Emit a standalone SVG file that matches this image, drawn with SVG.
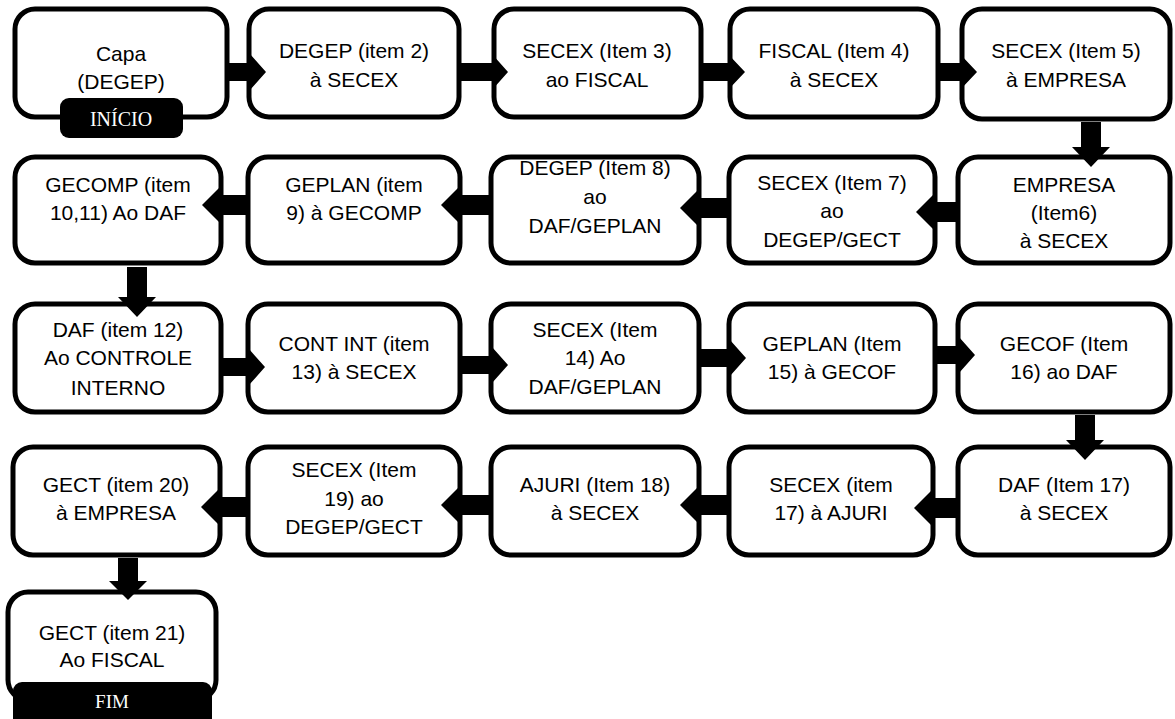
<svg xmlns="http://www.w3.org/2000/svg" width="1175" height="719" viewBox="0 0 1175 719">
<style>
.box{fill:#fff;stroke:#000;stroke-width:5}
.t{font-family:"Liberation Sans",Arial,sans-serif;font-size:21px;fill:#000;text-anchor:middle}
.lab{fill:#000}
.lt{font-family:"Liberation Serif","Times New Roman",serif;fill:#fff;text-anchor:middle}
.arr{fill:#000}
</style>
<rect width="1175" height="719" fill="#fff"/>
<g id="n1"><rect class="box" x="15" y="9" width="212" height="108" rx="20"/><text class="t" x="121" y="61">Capa</text><text class="t" x="121" y="89">(DEGEP)</text><rect class="lab" x="60" y="98" width="123" height="40" rx="9"/><text class="lt" x="121" y="126" font-size="20">INÍCIO</text></g>
<g id="n2"><rect class="box" x="249" y="9" width="210" height="108" rx="20"/><text class="t" x="354" y="58">DEGEP (item 2)</text><text class="t" x="354" y="87">à SECEX</text></g>
<g id="n3"><rect class="box" x="494" y="9" width="207" height="108" rx="20"/><text class="t" x="597" y="58">SECEX (Item 3)</text><text class="t" x="597" y="87">ao FISCAL</text></g>
<g id="n4"><rect class="box" x="730" y="9" width="208" height="108" rx="20"/><text class="t" x="834" y="58">FISCAL (Item 4)</text><text class="t" x="834" y="87">à SECEX</text></g>
<g id="n5"><rect class="box" x="962" y="9" width="208" height="110" rx="20"/><text class="t" x="1066" y="58">SECEX (Item 5)</text><text class="t" x="1066" y="87">à EMPRESA</text></g>
<g id="n6"><rect class="box" x="958" y="157" width="212" height="106" rx="20"/><text class="t" x="1064" y="192">EMPRESA</text><text class="t" x="1064" y="220">(Item6)</text><text class="t" x="1064" y="248">à SECEX</text></g>
<g id="n7"><rect class="box" x="729" y="157" width="206" height="106" rx="20"/><text class="t" x="832" y="190">SECEX (Item 7)</text><text class="t" x="832" y="218">ao</text><text class="t" x="832" y="247">DEGEP/GECT</text></g>
<g id="n8"><rect class="box" x="491" y="157" width="208" height="106" rx="20"/><text class="t" x="595" y="175">DEGEP (Item 8)</text><text class="t" x="595" y="204">ao</text><text class="t" x="595" y="233">DAF/GEPLAN</text></g>
<g id="n9"><rect class="box" x="248" y="157" width="212" height="106" rx="20"/><text class="t" x="354" y="192">GEPLAN (item</text><text class="t" x="354" y="220">9) à GECOMP</text></g>
<g id="n10"><rect class="box" x="15" y="157" width="206" height="106" rx="20"/><text class="t" x="118" y="192">GECOMP (item</text><text class="t" x="118" y="220">10,11) Ao DAF</text></g>
<g id="n11"><rect class="box" x="15" y="304" width="206" height="108" rx="20"/><text class="t" x="118" y="337">DAF (item 12)</text><text class="t" x="118" y="365">Ao CONTROLE</text><text class="t" x="118" y="395">INTERNO</text></g>
<g id="n12"><rect class="box" x="248" y="304" width="212" height="108" rx="20"/><text class="t" x="354" y="351">CONT INT (item</text><text class="t" x="354" y="379">13) à SECEX</text></g>
<g id="n13"><rect class="box" x="491" y="304" width="208" height="108" rx="20"/><text class="t" x="595" y="337">SECEX (Item</text><text class="t" x="595" y="365">14) Ao</text><text class="t" x="595" y="394">DAF/GEPLAN</text></g>
<g id="n14"><rect class="box" x="729" y="304" width="206" height="108" rx="20"/><text class="t" x="832" y="351">GEPLAN (Item</text><text class="t" x="832" y="379">15) à GECOF</text></g>
<g id="n15"><rect class="box" x="958" y="304" width="212" height="108" rx="20"/><text class="t" x="1064" y="351">GECOF (Item</text><text class="t" x="1064" y="379">16) ao DAF</text></g>
<g id="n16"><rect class="box" x="958" y="447" width="212" height="108" rx="20"/><text class="t" x="1064" y="492">DAF (Item 17)</text><text class="t" x="1064" y="520">à SECEX</text></g>
<g id="n17"><rect class="box" x="729" y="447" width="204" height="108" rx="20"/><text class="t" x="831" y="492">SECEX (item</text><text class="t" x="831" y="520">17) à AJURI</text></g>
<g id="n18"><rect class="box" x="491" y="447" width="208" height="108" rx="20"/><text class="t" x="595" y="492">AJURI (Item 18)</text><text class="t" x="595" y="520">à SECEX</text></g>
<g id="n19"><rect class="box" x="248" y="447" width="212" height="108" rx="20"/><text class="t" x="354" y="477">SECEX (Item</text><text class="t" x="354" y="506">19) ao</text><text class="t" x="354" y="534">DEGEP/GECT</text></g>
<g id="n20"><rect class="box" x="13" y="447" width="207" height="108" rx="20"/><text class="t" x="116" y="492">GECT (item 20)</text><text class="t" x="116" y="520">à EMPRESA</text></g>
<g id="n21"><rect class="box" x="8" y="592" width="208" height="108" rx="20"/><text class="t" x="112" y="640">GECT (item 21)</text><text class="t" x="112" y="667">Ao FISCAL</text><rect class="lab" x="13" y="682" width="199" height="60" rx="9"/><text class="lt" x="112" y="708" font-size="19">FIM</text></g>
<g id="connectors" class="arr">
<path d="M225,63 H250 V54 L266,72 L250,90 V81 H225 Z"/>
<path d="M459,63 H492 V54 L508,72 L492,90 V81 H459 Z"/>
<path d="M701,63 H728 V54 L745,72 L728,90 V81 H701 Z"/>
<path d="M938,63 H960 V54 L977,72 L960,90 V81 H938 Z"/>
<path d="M1081,122 V147 H1072 L1091,167 L1110,147 H1101 V122 Z"/>
<path d="M958,202 H935 V193 L916,212 L935,231 V222 H958 Z"/>
<path d="M729,198 H699 V189 L680,208 L699,227 V218 H729 Z"/>
<path d="M491,195 H460 V186 L441,205 L460,224 V215 H491 Z"/>
<path d="M248,195 H221 V186 L202,205 L221,224 V215 H248 Z"/>
<path d="M127,267 V297 H118 L137,317 L156,297 H147 V267 Z"/>
<path d="M221,358 H249 V349 L265,367 L249,385 V376 H221 Z"/>
<path d="M460,356 H492 V347 L508,365 L492,383 V374 H460 Z"/>
<path d="M699,349 H730 V340 L746,358 L730,376 V367 H699 Z"/>
<path d="M935,346 H959 V337 L975,355 L959,373 V364 H935 Z"/>
<path d="M1075,415 V440 H1066 L1085,460 L1104,440 H1095 V415 Z"/>
<path d="M958,498 H933 V489 L914,508 L933,527 V518 H958 Z"/>
<path d="M729,495 H699 V486 L680,505 L699,524 V515 H729 Z"/>
<path d="M491,495 H460 V486 L441,505 L460,524 V515 H491 Z"/>
<path d="M248,497 H220 V488 L201,507 L220,526 V517 H248 Z"/>
<path d="M118,558 V581 H109 L128,600 L147,581 H138 V558 Z"/>
</g>
</svg>
